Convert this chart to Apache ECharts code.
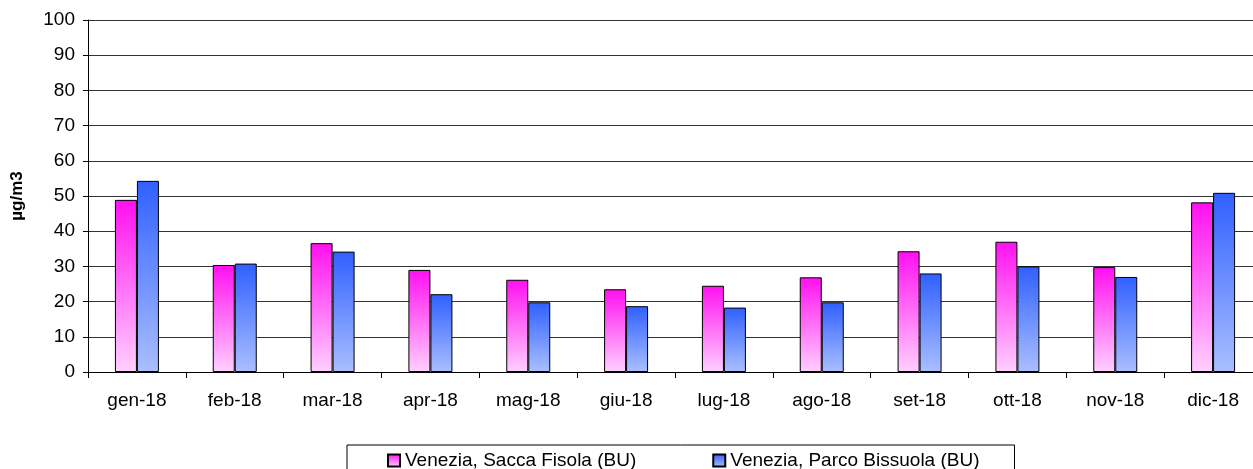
<!DOCTYPE html>
<html>
<head>
<meta charset="utf-8">
<script src="https://cdn.jsdelivr.net/npm/echarts@6/dist/echarts.min.js"></script>
<style>
  html, body { margin: 0; padding: 0; background: #fff; }
  #chart { width: 1253px; height: 469px; }
</style>
</head>
<body>
<div id="chart"></div>
<script>
// monthly means
const months = ['gen-18', 'feb-18', 'mar-18', 'apr-18', 'mag-18', 'giu-18',
                'lug-18', 'ago-18', 'set-18', 'ott-18', 'nov-18', 'dic-18'];
const saccaFisola = [48.9, 30.4, 36.6, 29.0, 26.2, 23.5, 24.5, 26.9, 34.3, 37.0, 29.8, 48.2];
const parcoBissuola = [54.3, 30.8, 34.2, 22.1, 19.8, 18.7, 18.3, 19.8, 28.0, 30.0, 27.0, 50.9];
const seriesNames = ['Venezia, Sacca Fisola (BU)', 'Venezia, Parco Bissuola (BU)'];

const font = 'Liberation Sans, Arial, sans-serif';

function grad(top, bottom) {
  return new echarts.graphic.LinearGradient(0, 0, 0, 1, [
    { offset: 0, color: top },
    { offset: 1, color: bottom }
  ]);
}

const chart = echarts.init(document.getElementById('chart'));

const option = {
  animation: false,
  grid: { left: 88, right: -9, top: 20, bottom: 97, containLabel: false, outerBoundsMode: 'none' },
  legend: {
    left: 347,
    top: 445,
    padding: [6, 35, 10, 40],
    itemGap: 76,
    itemWidth: 12,
    itemHeight: 12,
    icon: 'rect',
    borderColor: '#000',
    borderWidth: 1,
    textStyle: { fontFamily: font, fontSize: 19, color: '#000' },
    data: seriesNames
  },
  xAxis: {
    type: 'category',
    data: months,
    axisLine: { lineStyle: { color: '#000', width: 1 } },
    axisTick: { show: true, length: 6, lineStyle: { color: '#000' } },
    axisLabel: { color: '#000', fontFamily: font, fontSize: 19, margin: 19 }
  },
  yAxis: {
    type: 'value',
    min: 0,
    max: 100,
    interval: 10,
    name: 'µg/m3',
    nameLocation: 'middle',
    nameGap: 62,
    nameRotate: 90,
    nameTextStyle: { fontFamily: font, fontSize: 17, fontWeight: 'bold', color: '#000' },
    axisLine: { show: true, lineStyle: { color: '#000', width: 1 } },
    axisTick: { show: true, length: 5, lineStyle: { color: '#000' } },
    axisLabel: { color: '#000', fontFamily: font, fontSize: 19, margin: 13 },
    splitLine: { show: true, lineStyle: { color: '#333', width: 1.2 } }
  },
  series: [
    {
      name: seriesNames[0],
      type: 'bar',
      data: saccaFisola,
      barWidth: 22,
      barGap: '0%',
      itemStyle: { color: grad('#ff10f0', '#ffd0ff'), borderColor: '#000', borderWidth: 1 }
    },
    {
      name: seriesNames[1],
      type: 'bar',
      data: parcoBissuola,
      barWidth: 22,
      barGap: '0%',
      itemStyle: { color: grad('#3060ff', '#aabfff'), borderColor: '#000', borderWidth: 1 }
    }
  ]
};

chart.setOption(option);
</script>
</body>
</html>
